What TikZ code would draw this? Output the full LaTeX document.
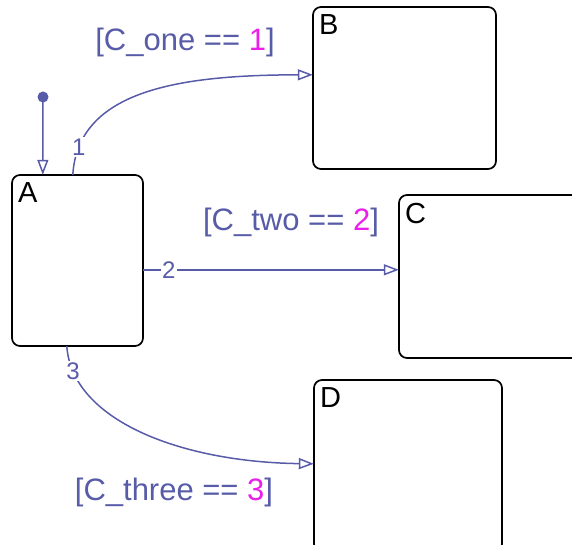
\documentclass[tikz,border=0pt]{standalone}
\usepackage{fontspec}
\setmainfont{Liberation Sans}
\usetikzlibrary{arrows.meta,calc}
\definecolor{trans}{RGB}{88,92,168}
\definecolor{mag}{RGB}{235,30,235}
\begin{document}
\begin{tikzpicture}[x=1pt,y=-1pt,
  state/.style={draw=black,line width=1.7pt,rounded corners=8pt},
  sname/.style={anchor=north west,font=\fontsize{29}{29}\selectfont,inner sep=0pt,text=black},
  tr/.style={draw=trans,line width=1.5pt,-{Triangle[open,length=15pt,width=11pt,line width=1.5pt]}},
  tnum/.style={text=trans,fill=white,font=\fontsize{24}{24}\selectfont,inner sep=1.5pt},
  guard/.style={text=trans,font=\fontsize{31}{31}\selectfont,inner sep=0pt}]
\useasboundingbox (0,0) rectangle (572,545);
% states
\draw[state] (12,175) rectangle (143,346);
\node[inner sep=0pt] (A) at (77.5,260.5) [minimum width=131pt,minimum height=171pt] {};
\draw[state] (313,7) rectangle (496,169);
\node[inner sep=0pt] (B) at (404.5,88) [minimum width=183pt,minimum height=162pt] {};
\draw[state] (399,195) rectangle (580,358);
\node[inner sep=0pt] (C) at (489.5,276.5) [minimum width=181pt,minimum height=163pt] {};
\draw[state] (314,380) rectangle (502,552);
\node[inner sep=0pt] (D) at (408,466) [minimum width=188pt,minimum height=172pt] {};
\node[sname] (la) at ($(A.north west)+(6,8)$) {A};
\node[sname] (lb) at ($(B.north west)+(6,8)$) {B};
\node[sname] (lc) at ($(C.north west)+(6,8)$) {C};
\node[sname] (ld) at ($(D.north west)+(6,8)$) {D};
% default transition
\fill[trans] (43,97) circle (5.5pt);
\coordinate (dot) at (43,97);
\coordinate (a0) at ($(A.north west)+(31,0)$);
\draw[tr] (dot) -- (a0);
% transition 1
\coordinate (a1) at ($(A.north west)+(61,0)$);
\coordinate (b1) at ($(B.north west)+(0,68)$);
\draw[tr] (a1) .. controls (78,90) and (180,75) .. (b1)
  node[tnum,pos=0.12] (n1) {1};
\node[guard] (g1) at (185,42) {[C\_one == \textcolor{mag}{1}]};
% transition 2
\coordinate (a2) at ($(A.north east)+(0,95)$);
\coordinate (c2) at ($(C.north west)+(0,75)$);
\draw[tr] (a2) -- (c2) node[tnum,pos=0.1] (n2) {2};
\node[guard] (g2) at (291,222) {[C\_two == \textcolor{mag}{2}]};
% transition 3
\coordinate (a3) at ($(A.south west)+(55,0)$);
\coordinate (d3) at ($(D.north west)+(0,84)$);
\draw[tr] (a3) .. controls (72,420) and (180,462) .. (d3)
  node[tnum,pos=0.12] (n3) {3};
\node[guard] (g3) at (174,492) {[C\_three == \textcolor{mag}{3}]};
\end{tikzpicture}
\end{document}
